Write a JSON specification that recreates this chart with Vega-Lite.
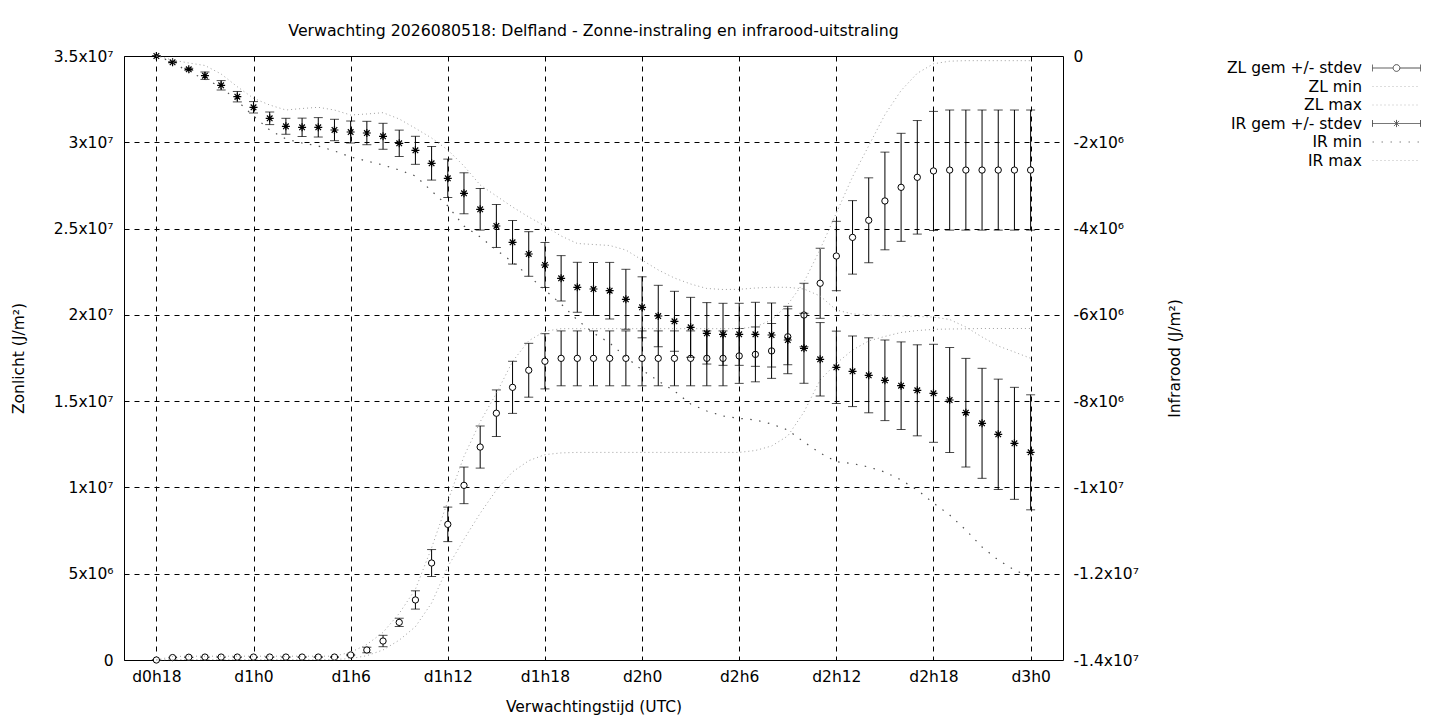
{
  "$schema": "https://vega.github.io/schema/vega-lite/v6.json",
  "width": 939,
  "height": 604,
  "autosize": {"type": "none"},
  "padding": {"left": 124, "top": 56, "right": 377, "bottom": 60},
  "background": "white",
  "title": {
    "text": "Verwachting 2026080518: Delfland - Zonne-instraling en infrarood-uitstraling",
    "font": "DejaVu Sans",
    "fontSize": 15.75,
    "fontWeight": "normal",
    "color": "black",
    "anchor": "middle",
    "frame": "group",
    "baseline": "alphabetic",
    "offset": 18,
    "dy": 21
  },
  "config": {
    "font": "DejaVu Sans",
    "view": {"stroke": "black", "strokeWidth": 1},
    "axis": {
      "labelFont": "DejaVu Sans",
      "labelFontSize": 15.5,
      "labelColor": "black",
      "titleFont": "DejaVu Sans",
      "titleFontSize": 15.5,
      "titleFontWeight": "normal",
      "titleColor": "black",
      "ticks": false,
      "domain": false,
      "grid": false,
      "gridColor": "black",
      "gridDash": [5, 5],
      "gridWidth": 1,
      "gridOpacity": 1,
      "labelOverlap": false
    },
    "legend": {
      "title": null,
      "orient": "none",
      "legendX": 1080,
      "legendY": 3.5,
      "padding": 0,
      "symbolSize": 256,
      "symbolStrokeWidth": 1,
      "symbolFillColor": "white",
      "symbolOffset": 184,
      "labelAlign": "right",
      "labelBaseline": "middle",
      "labelOffset": -43,
      "labelFont": "DejaVu Sans",
      "labelFontSize": 15.5,
      "labelColor": "black",
      "labelLimit": 0,
      "rowPadding": 1.5
    }
  },
  "data": {
    "values": [
      {"h": 18, "zl": 0, "zlsd": 0, "zlmin": 0, "zlmax": 0, "ir": 0, "irsd": 0, "irmin": 0, "irmax": 0},
      {"h": 19, "zl": 140000, "zlsd": 10000, "zlmin": 30000, "zlmax": 200000, "ir": -146000, "irsd": 12000, "irmin": -139000, "irmax": -93000},
      {"h": 20, "zl": 160000, "zlsd": 10000, "zlmin": 30000, "zlmax": 220000, "ir": -308000, "irsd": 23000, "irmin": -371000, "irmax": -162000},
      {"h": 21, "zl": 170000, "zlsd": 10000, "zlmin": 30000, "zlmax": 220000, "ir": -457000, "irsd": 86000, "irmin": -533000, "irmax": -220000},
      {"h": 22, "zl": 170000, "zlsd": 10000, "zlmin": 30000, "zlmax": 220000, "ir": -679000, "irsd": 109000, "irmin": -719000, "irmax": -417000},
      {"h": 23, "zl": 170000, "zlsd": 10000, "zlmin": 30000, "zlmax": 220000, "ir": -943000, "irsd": 121000, "irmin": -1043000, "irmax": -712000},
      {"h": 24, "zl": 170000, "zlsd": 10000, "zlmin": 30000, "zlmax": 220000, "ir": -1189000, "irsd": 132000, "irmin": -1391000, "irmax": -980000},
      {"h": 25, "zl": 170000, "zlsd": 10000, "zlmin": 30000, "zlmax": 220000, "ir": -1444000, "irsd": 146000, "irmin": -1715000, "irmax": -1136000},
      {"h": 26, "zl": 170000, "zlsd": 10000, "zlmin": 30000, "zlmax": 220000, "ir": -1629000, "irsd": 185000, "irmin": -1924000, "irmax": -1252000},
      {"h": 27, "zl": 170000, "zlsd": 10000, "zlmin": 30000, "zlmax": 220000, "ir": -1653000, "irsd": 213000, "irmin": -2017000, "irmax": -1217000},
      {"h": 28, "zl": 170000, "zlsd": 10000, "zlmin": 30000, "zlmax": 220000, "ir": -1653000, "irsd": 225000, "irmin": -2086000, "irmax": -1189000},
      {"h": 29, "zl": 170000, "zlsd": 10000, "zlmin": 30000, "zlmax": 220000, "ir": -1715000, "irsd": 248000, "irmin": -2202000, "irmax": -1252000},
      {"h": 30, "zl": 290000, "zlsd": 40000, "zlmin": 80000, "zlmax": 450000, "ir": -1762000, "irsd": 255000, "irmin": -2341000, "irmax": -1368000},
      {"h": 31, "zl": 580000, "zlsd": 160000, "zlmin": 250000, "zlmax": 900000, "ir": -1785000, "irsd": 271000, "irmin": -2434000, "irmax": -1344000},
      {"h": 32, "zl": 1100000, "zlsd": 330000, "zlmin": 580000, "zlmax": 1600000, "ir": -1861000, "irsd": 301000, "irmin": -2527000, "irmax": -1314000},
      {"h": 33, "zl": 2180000, "zlsd": 240000, "zlmin": 1150000, "zlmax": 2700000, "ir": -2024000, "irsd": 306000, "irmin": -2642000, "irmax": -1460000},
      {"h": 34, "zl": 3480000, "zlsd": 530000, "zlmin": 1930000, "zlmax": 4100000, "ir": -2186000, "irsd": 325000, "irmin": -2781000, "irmax": -1676000},
      {"h": 35, "zl": 5620000, "zlsd": 780000, "zlmin": 3300000, "zlmax": 6500000, "ir": -2487000, "irsd": 389000, "irmin": -3129000, "irmax": -1901000},
      {"h": 36, "zl": 7860000, "zlsd": 1000000, "zlmin": 5400000, "zlmax": 9200000, "ir": -2835000, "irsd": 445000, "irmin": -3477000, "irmax": -2179000},
      {"h": 37, "zl": 10120000, "zlsd": 1060000, "zlmin": 7000000, "zlmax": 11800000, "ir": -3182000, "irsd": 475000, "irmin": -3940000, "irmax": -2550000},
      {"h": 38, "zl": 12340000, "zlsd": 1220000, "zlmin": 8500000, "zlmax": 13800000, "ir": -3553000, "irsd": 482000, "irmin": -4195000, "irmax": -2990000},
      {"h": 39, "zl": 14300000, "zlsd": 1350000, "zlmin": 9850000, "zlmax": 15450000, "ir": -3940000, "irsd": 498000, "irmin": -4497000, "irmax": -3245000},
      {"h": 40, "zl": 15800000, "zlsd": 1510000, "zlmin": 10900000, "zlmax": 17300000, "ir": -4318000, "irsd": 505000, "irmin": -4775000, "irmax": -3500000},
      {"h": 41, "zl": 16790000, "zlsd": 1560000, "zlmin": 11550000, "zlmax": 18500000, "ir": -4589000, "irsd": 517000, "irmin": -5099000, "irmax": -3732000},
      {"h": 42, "zl": 17310000, "zlsd": 1600000, "zlmin": 11900000, "zlmax": 19050000, "ir": -4844000, "irsd": 522000, "irmin": -5424000, "irmax": -3940000},
      {"h": 43, "zl": 17480000, "zlsd": 1590000, "zlmin": 12000000, "zlmax": 19200000, "ir": -5153000, "irsd": 526000, "irmin": -5748000, "irmax": -4172000},
      {"h": 44, "zl": 17480000, "zlsd": 1590000, "zlmin": 12030000, "zlmax": 19200000, "ir": -5361000, "irsd": 579000, "irmin": -6119000, "irmax": -4346000},
      {"h": 45, "zl": 17480000, "zlsd": 1590000, "zlmin": 12030000, "zlmax": 19200000, "ir": -5401000, "irsd": 614000, "irmin": -6421000, "irmax": -4369000},
      {"h": 46, "zl": 17480000, "zlsd": 1590000, "zlmin": 12030000, "zlmax": 19200000, "ir": -5440000, "irsd": 656000, "irmin": -6652000, "irmax": -4392000},
      {"h": 47, "zl": 17480000, "zlsd": 1590000, "zlmin": 12030000, "zlmax": 19200000, "ir": -5639000, "irsd": 695000, "irmin": -6977000, "irmax": -4497000},
      {"h": 48, "zl": 17480000, "zlsd": 1590000, "zlmin": 12030000, "zlmax": 19200000, "ir": -5825000, "irsd": 707000, "irmin": -7278000, "irmax": -4729000},
      {"h": 49, "zl": 17480000, "zlsd": 1590000, "zlmin": 12030000, "zlmax": 19200000, "ir": -6027000, "irsd": 712000, "irmin": -7533000, "irmax": -4960000},
      {"h": 50, "zl": 17480000, "zlsd": 1590000, "zlmin": 12030000, "zlmax": 19200000, "ir": -6149000, "irsd": 695000, "irmin": -7765000, "irmax": -5146000},
      {"h": 51, "zl": 17480000, "zlsd": 1590000, "zlmin": 12030000, "zlmax": 19200000, "ir": -6289000, "irsd": 695000, "irmin": -8066000, "irmax": -5285000},
      {"h": 52, "zl": 17480000, "zlsd": 1590000, "zlmin": 12030000, "zlmax": 19200000, "ir": -6428000, "irsd": 712000, "irmin": -8229000, "irmax": -5389000},
      {"h": 53, "zl": 17480000, "zlsd": 1590000, "zlmin": 12030000, "zlmax": 19200000, "ir": -6451000, "irsd": 719000, "irmin": -8344000, "irmax": -5412000},
      {"h": 54, "zl": 17620000, "zlsd": 1590000, "zlmin": 12030000, "zlmax": 19200000, "ir": -6451000, "irsd": 719000, "irmin": -8398000, "irmax": -5408000},
      {"h": 55, "zl": 17710000, "zlsd": 1590000, "zlmin": 12140000, "zlmax": 19300000, "ir": -6451000, "irsd": 742000, "irmin": -8437000, "irmax": -5378000},
      {"h": 56, "zl": 17910000, "zlsd": 1590000, "zlmin": 12400000, "zlmax": 19700000, "ir": -6467000, "irsd": 742000, "irmin": -8530000, "irmax": -5361000},
      {"h": 57, "zl": 18730000, "zlsd": 1620000, "zlmin": 12980000, "zlmax": 20600000, "ir": -6583000, "irsd": 781000, "irmin": -8669000, "irmax": -5361000},
      {"h": 58, "zl": 19990000, "zlsd": 1840000, "zlmin": 14370000, "zlmax": 21900000, "ir": -6775000, "irsd": 811000, "irmin": -8947000, "irmax": -5401000},
      {"h": 59, "zl": 21830000, "zlsd": 2030000, "zlmin": 16230000, "zlmax": 23800000, "ir": -7030000, "irsd": 851000, "irmin": -9202000, "irmax": -5563000},
      {"h": 60, "zl": 23410000, "zlsd": 2010000, "zlmin": 17190000, "zlmax": 25900000, "ir": -7216000, "irsd": 839000, "irmin": -9404000, "irmax": -5887000},
      {"h": 61, "zl": 24490000, "zlsd": 2130000, "zlmin": 17960000, "zlmax": 28000000, "ir": -7308000, "irsd": 818000, "irmin": -9445000, "irmax": -5980000},
      {"h": 62, "zl": 25480000, "zlsd": 2460000, "zlmin": 18490000, "zlmax": 29800000, "ir": -7401000, "irsd": 869000, "irmin": -9527000, "irmax": -6003000},
      {"h": 63, "zl": 26600000, "zlsd": 2830000, "zlmin": 18750000, "zlmax": 31600000, "ir": -7517000, "irsd": 934000, "irmin": -9643000, "irmax": -6015000},
      {"h": 64, "zl": 27390000, "zlsd": 3130000, "zlmin": 18980000, "zlmax": 33000000, "ir": -7642000, "irsd": 1015000, "irmin": -9828000, "irmax": -6027000},
      {"h": 65, "zl": 27970000, "zlsd": 3290000, "zlmin": 19090000, "zlmax": 34000000, "ir": -7749000, "irsd": 1055000, "irmin": -10060000, "irmax": -6038000},
      {"h": 66, "zl": 28340000, "zlsd": 3450000, "zlmin": 19160000, "zlmax": 34550000, "ir": -7818000, "irsd": 1136000, "irmin": -10361000, "irmax": -6050000},
      {"h": 67, "zl": 28390000, "zlsd": 3480000, "zlmin": 19180000, "zlmax": 34700000, "ir": -7974000, "irsd": 1217000, "irmin": -10639000, "irmax": -6108000},
      {"h": 68, "zl": 28390000, "zlsd": 3480000, "zlmin": 19190000, "zlmax": 34730000, "ir": -8268000, "irsd": 1259000, "irmin": -10987000, "irmax": -6282000},
      {"h": 69, "zl": 28390000, "zlsd": 3480000, "zlmin": 19210000, "zlmax": 34730000, "ir": -8514000, "irsd": 1275000, "irmin": -11381000, "irmax": -6513000},
      {"h": 70, "zl": 28390000, "zlsd": 3480000, "zlmin": 19210000, "zlmax": 34730000, "ir": -8769000, "irsd": 1279000, "irmin": -11682000, "irmax": -6722000},
      {"h": 71, "zl": 28390000, "zlsd": 3480000, "zlmin": 19210000, "zlmax": 34730000, "ir": -8978000, "irsd": 1298000, "irmin": -11914000, "irmax": -6861000},
      {"h": 72, "zl": 28390000, "zlsd": 3480000, "zlmin": 19210000, "zlmax": 34730000, "ir": -9186000, "irsd": 1333000, "irmin": -12076000, "irmax": -7007000}
    ]
  },
  "layer": [
    {
      "layer": [
        {
          "mark": {"type": "errorbar", "ticks": true, "size": 9, "thickness": 1, "color": "black"},
          "encoding": {
            "x": {
              "field": "h",
              "type": "quantitative",
              "scale": {"domain": [16, 74], "nice": false, "zero": false},
              "axis": {
                "values": [18, 24, 30, 36, 42, 48, 54, 60, 66, 72],
                "grid": true,
                "labelExpr": "'d' + floor(datum.value / 24) + 'h' + (datum.value % 24)",
                "labelPadding": 9,
                "title": "Verwachtingstijd (UTC)",
                "titleX": 469.5,
                "titleY": 46,
                "titleBaseline": "middle"
              }
            },
            "y": {
              "field": "zl",
              "type": "quantitative",
              "scale": {"domain": [0, 35000000], "nice": false, "zero": false},
              "axis": {
                "orient": "left",
                "values": [0, 5000000, 10000000, 15000000, 20000000, 25000000, 30000000, 35000000],
                "grid": true,
                "labelExpr": "datum.value == 0 ? '0' : datum.value < 10000000 ? (datum.value / 1000000) + 'x10⁶' : (datum.value / 10000000) + 'x10⁷'",
                "labelPadding": 11,
                "title": "Zonlicht (J/m²)",
                "titleX": -106,
                "titleY": 302,
                "titleAngle": 270,
                "titleAlign": "center",
                "titleBaseline": "middle"
              }
            },
            "yError": {"field": "zlsd"}
          }
        },
        {
          "mark": {"type": "point", "shape": "circle", "filled": true, "fill": "white", "stroke": "black", "strokeWidth": 1, "size": 40, "opacity": 1},
          "encoding": {
            "x": {"field": "h", "type": "quantitative"},
            "y": {"field": "zl", "type": "quantitative"}
          }
        },
        {
          "mark": {"type": "line", "color": "#a0a0a0", "strokeWidth": 1, "strokeDash": [1, 3]},
          "encoding": {
            "x": {"field": "h", "type": "quantitative"},
            "y": {"field": "zlmin", "type": "quantitative"}
          }
        },
        {
          "mark": {"type": "line", "color": "#a0a0a0", "strokeWidth": 1, "strokeDash": [1, 3]},
          "encoding": {
            "x": {"field": "h", "type": "quantitative"},
            "y": {"field": "zlmax", "type": "quantitative"}
          }
        }
      ]
    },
    {
      "layer": [
        {
          "mark": {"type": "errorbar", "ticks": true, "size": 9, "thickness": 1, "color": "black"},
          "encoding": {
            "x": {"field": "h", "type": "quantitative"},
            "y": {
              "field": "ir",
              "type": "quantitative",
              "scale": {"domain": [-14000000, 0], "nice": false, "zero": false},
              "axis": {
                "orient": "right",
                "values": [0, -2000000, -4000000, -6000000, -8000000, -10000000, -12000000, -14000000],
                "grid": false,
                "labelExpr": "datum.value == 0 ? '0' : datum.value > -10000000 ? (datum.value / 1000000) + 'x10⁶' : (datum.value / 10000000) + 'x10⁷'",
                "labelPadding": 10,
                "labelAlign": "left",
                "title": "Infrarood (J/m²)",
                "titleX": 111,
                "titleY": 302,
                "titleAngle": 270,
                "titleAlign": "center",
                "titleBaseline": "middle"
              }
            },
            "yError": {"field": "irsd"}
          }
        },
        {
          "mark": {"type": "point", "shape": "M-1,0H1M0,-1V1M-0.7,-0.7L0.7,0.7M-0.7,0.7L0.7,-0.7", "filled": false, "stroke": "black", "strokeWidth": 1.2, "size": 64, "opacity": 1},
          "encoding": {
            "x": {"field": "h", "type": "quantitative"},
            "y": {"field": "ir", "type": "quantitative"}
          }
        },
        {
          "mark": {"type": "line", "color": "#505050", "strokeWidth": 1.2, "strokeDash": [1.5, 7.5]},
          "encoding": {
            "x": {"field": "h", "type": "quantitative"},
            "y": {"field": "irmin", "type": "quantitative"}
          }
        },
        {
          "mark": {"type": "line", "color": "#a0a0a0", "strokeWidth": 1, "strokeDash": [1, 3]},
          "encoding": {
            "x": {"field": "h", "type": "quantitative"},
            "y": {"field": "irmax", "type": "quantitative"}
          }
        },
        {
          "data": {"values": []},
          "mark": {"type": "point", "size": 256, "filled": false, "strokeWidth": 1},
          "encoding": {
            "shape": {
              "field": "k",
              "type": "nominal",
              "scale": {
                "domain": ["ZL gem +/- stdev", "ZL min", "ZL max", "IR gem +/- stdev", "IR min", "IR max"],
                "range": [
                  "M-3,0H-0.45M0.45,0H3M-3,-0.42V0.42M3,-0.42V0.42M0.42,0A0.42 0.42 0 1 1 -0.42,0A0.42 0.42 0 1 1 0.42,0Z",
                  "M-3,0H3",
                  "M-3,0H3",
                  "M-3,0H3M-3,-0.42V0.42M3,-0.42V0.42M0,-0.45V0.45M-0.32,-0.32L0.32,0.32M-0.32,0.32L0.32,-0.32",
                  "M-3,0H3",
                  "M-3,0H3"
                ]
              },
              "legend": {}
            },
            "stroke": {
              "field": "k",
              "type": "nominal",
              "scale": {
                "domain": ["ZL gem +/- stdev", "ZL min", "ZL max", "IR gem +/- stdev", "IR min", "IR max"],
                "range": ["black", "#a0a0a0", "#a0a0a0", "black", "#505050", "#a0a0a0"]
              },
              "legend": {}
            },
            "strokeDash": {
              "field": "k",
              "type": "nominal",
              "scale": {
                "domain": ["ZL gem +/- stdev", "ZL min", "ZL max", "IR gem +/- stdev", "IR min", "IR max"],
                "range": [[1, 0], [1, 3], [1, 3], [1, 0], [1.5, 7.5], [1, 3]]
              },
              "legend": {}
            }
          }
        }
      ]
    }
  ],
  "resolve": {"scale": {"y": "independent"}}
}
